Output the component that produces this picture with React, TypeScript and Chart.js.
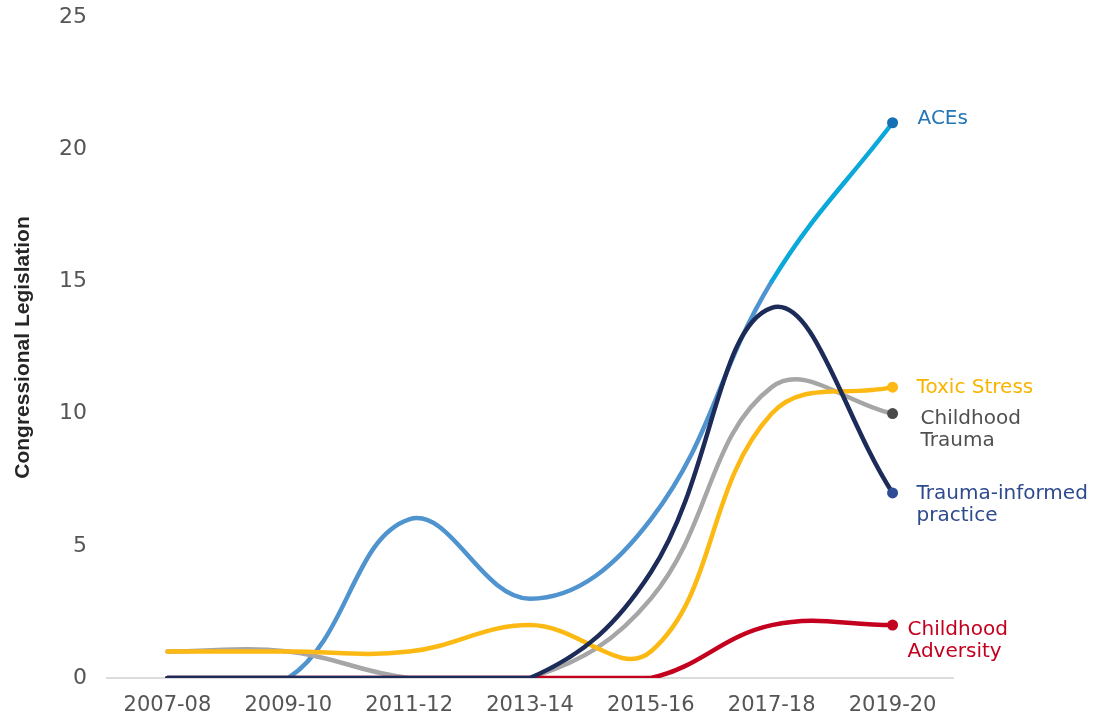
import React, { useEffect, useRef } from "react";
import { Chart, registerables } from "chart.js";

Chart.register(...registerables);

// ---- data ----
const categories = ["2007-08", "2009-10", "2011-12", "2013-14", "2015-16", "2017-18", "2019-20"];
const acesValues = [0, 0, 6, 3, 6, 15, 21];
const traumaInformedValues = [0, 0, 0, 0, 4, 14, 7];
const childhoodAdversityValues = [0, 0, 0, 0, 0, 2, 2];
const toxicStressValues = [1, 1, 1, 2, 1, 10, 11];
const childhoodTraumaValues = [1, 1, 0, 0, 3, 11, 10];
const yTickValues = [0, 5, 10, 15, 20, 25];
const yAxisTitle = "Congressional Legislation";

const acesLabel = ["ACEs"];
const traumaInformedLabel = ["Trauma-informed", "practice"];
const childhoodAdversityLabel = ["Childhood", "Adversity"];
const toxicStressLabel = ["Toxic Stress"];
const childhoodTraumaLabel = ["Childhood", "Trauma"];

// ---- styles ----
const LABEL_FONT = "20px 'DejaVu Sans'";
const LABEL_LINE = 22;

const lastIndex = categories.length - 1;
const dotRadius = (ctx: any) => (ctx.dataIndex === lastIndex ? 5.5 : 0);

const endLabelPlugin = {
  id: "endLabels",
  afterDatasetsDraw(chart: any) {
    const ctx = chart.ctx;
    chart.data.datasets.forEach((ds: any, i: number) => {
      const meta = chart.getDatasetMeta(i);
      const pt = meta.data[meta.data.length - 1];
      const cfg = ds.endLabel;
      if (!cfg || !pt) return;
      ctx.save();
      ctx.font = LABEL_FONT;
      ctx.fillStyle = cfg.color;
      ctx.textAlign = "left";
      ctx.textBaseline = "middle";
      cfg.lines.forEach((line: string, j: number) => {
        ctx.fillText(line, pt.x + cfg.dx, pt.y + cfg.dy + j * LABEL_LINE);
      });
      ctx.restore();
    });
  },
};

export default function App() {
  const canvasRef = useRef<HTMLCanvasElement | null>(null);

  useEffect(() => {
    const canvas = canvasRef.current;
    if (!canvas) return;
    const ACE_BLUE = "#4f93cf";
    const ACE_CYAN = "#0ba9d9";
    const chart = new Chart(canvas, {
      type: "line",
      data: {
        labels: categories,
        datasets: [
          {
            label: "Trauma-informed practice",
            data: traumaInformedValues,
            borderColor: "#1c2b58",
            pointBackgroundColor: "#2f4c97",
            pointBorderColor: "#2f4c97",
            order: 0,
            endLabel: { lines: traumaInformedLabel, color: "#2e4a8f", dx: 24, dy: 1 },
          } as any,
          {
            label: "Childhood Adversity",
            data: childhoodAdversityValues,
            borderColor: "#c4001f",
            pointBackgroundColor: "#c4001f",
            pointBorderColor: "#c4001f",
            order: 1,
            endLabel: { lines: childhoodAdversityLabel, color: "#c4001f", dx: 15, dy: 5 },
          } as any,
          {
            label: "Toxic Stress",
            data: toxicStressValues,
            borderColor: "#fdb913",
            pointBackgroundColor: "#fdb913",
            pointBorderColor: "#fdb913",
            order: 2,
            endLabel: { lines: toxicStressLabel, color: "#f9b400", dx: 24, dy: 1 },
          } as any,
          {
            label: "Childhood Trauma",
            data: childhoodTraumaValues,
            borderColor: "#a6a6a6",
            pointBackgroundColor: "#4a4a4a",
            pointBorderColor: "#4a4a4a",
            order: 3,
            endLabel: { lines: childhoodTraumaLabel, color: "#505050", dx: 28, dy: 5 },
          } as any,
          {
            label: "ACEs",
            data: acesValues,
            borderColor: ACE_BLUE,
            segment: {
              borderColor: (ctx: any) => (ctx.p1DataIndex === lastIndex ? ACE_CYAN : ACE_BLUE),
            },
            pointBackgroundColor: "#1670b3",
            pointBorderColor: "#1670b3",
            order: 4,
            endLabel: { lines: acesLabel, color: "#2477b6", dx: 25, dy: -4 },
          } as any,
        ],
      },
      options: {
        animation: false,
        responsive: true,
        maintainAspectRatio: false,
        layout: { padding: { left: 0, top: 17, right: 144, bottom: 0 } },
        elements: {
          line: { tension: 0.4, borderWidth: 4.5, borderCapStyle: "round", fill: false },
          point: { radius: dotRadius, hoverRadius: dotRadius, borderWidth: 0 },
        },
        plugins: {
          legend: { display: false },
          tooltip: { enabled: false },
        },
        scales: {
          x: {
            type: "category",
            offset: true,
            grid: { display: false, drawTicks: false },
            border: { display: true, color: "#dcdcdc", width: 2 },
            ticks: {
              color: "#555555",
              font: { family: "'DejaVu Sans'", size: 21 },
              padding: 15,
              maxRotation: 0,
              autoSkip: false,
            },
            afterFit: (scale: any) => {
              scale.height = 41;
              scale.paddingLeft = 0;
              scale.paddingRight = 0;
            },
          },
          y: {
            min: 0,
            max: 25,
            grid: { display: false, drawTicks: false },
            border: { display: false },
            afterBuildTicks: (scale: any) => {
              scale.ticks = yTickValues.map((v) => ({ value: v }));
            },
            ticks: {
              color: "#555555",
              font: { family: "'DejaVu Sans'", size: 22 },
              padding: 20,
            },
            title: {
              display: true,
              text: yAxisTitle,
              color: "#262626",
              font: { family: "'Liberation Sans'", size: 21, weight: "bold" },
              padding: { top: 11, bottom: 0 },
            },
            afterFit: (scale: any) => {
              scale.width = 107;
              scale.paddingTop = 0;
              scale.paddingBottom = 0;
            },
          },
        },
      } as any,
      plugins: [endLabelPlugin],
    });
    return () => chart.destroy();
  }, []);

  return (
    <div style={{ position: "fixed", left: 0, top: 0, width: 1097, height: 719, background: "#ffffff" }}>
      <canvas ref={canvasRef} />
    </div>
  );
}
